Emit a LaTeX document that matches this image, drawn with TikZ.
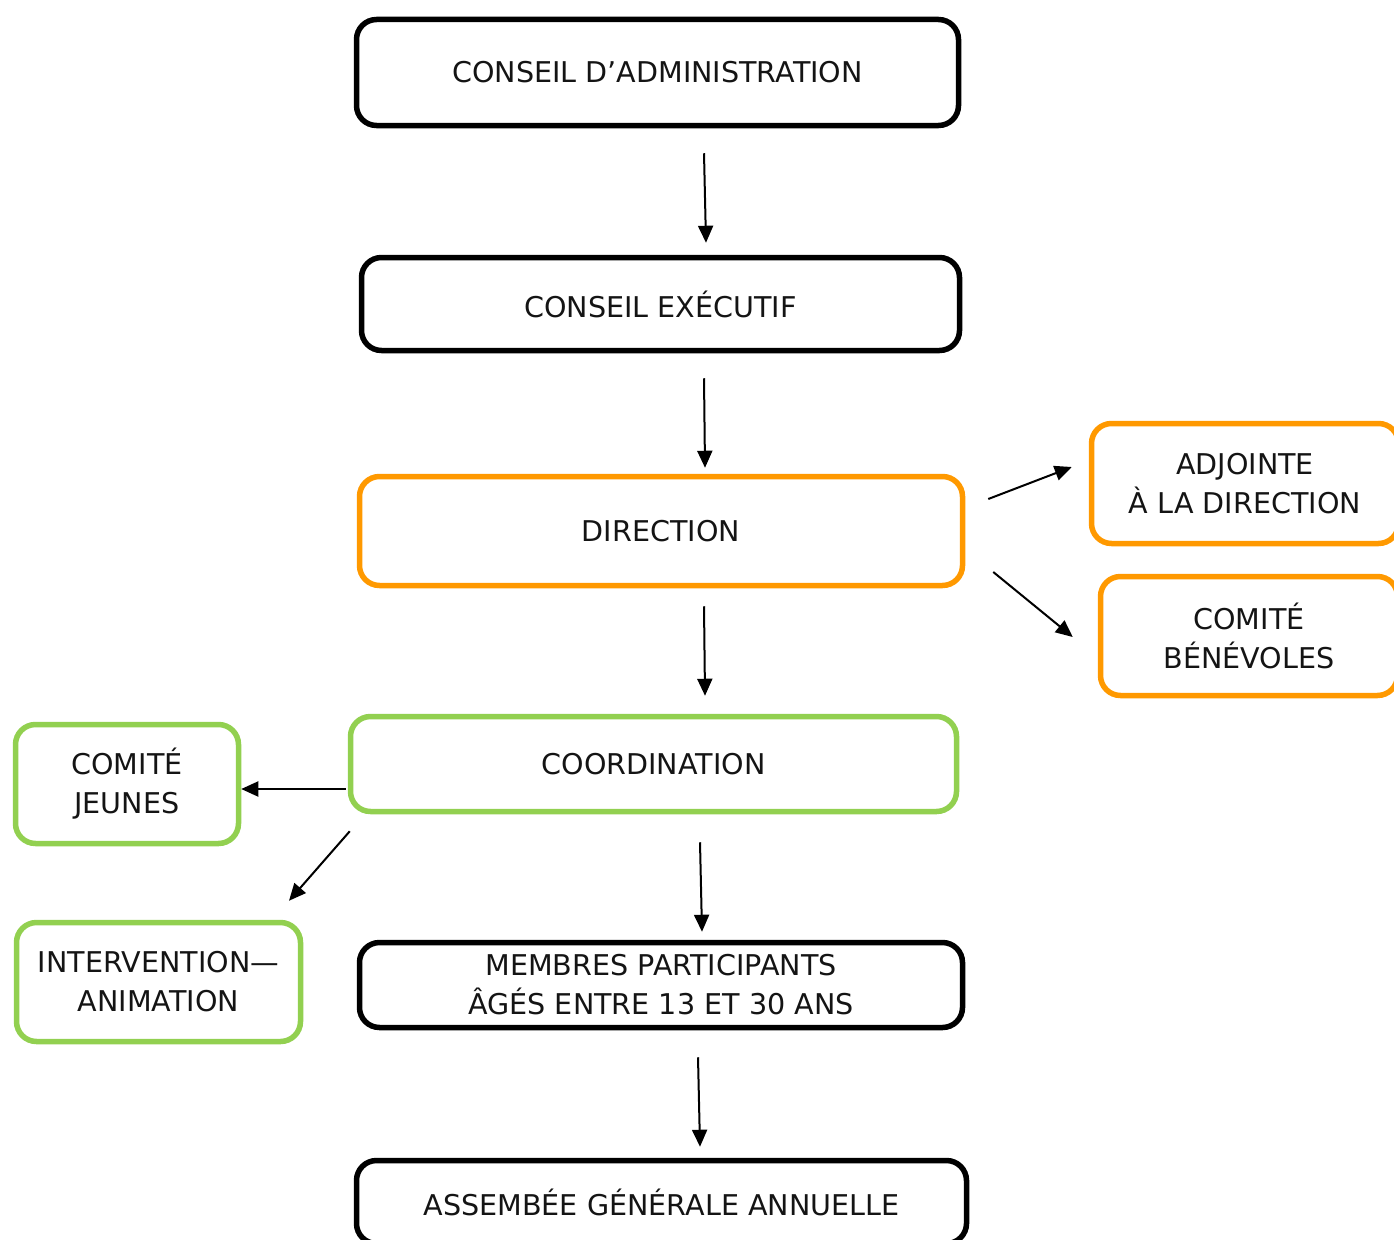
\documentclass[tikz,border=0pt]{standalone}
\usepackage{fontspec}
\setmainfont{DejaVu Sans}
\usetikzlibrary{arrows.meta,calc}
\definecolor{orgc}{HTML}{FF9900}
\definecolor{grnc}{HTML}{92D050}
\begin{document}
\begin{tikzpicture}[x=1pt,y=-1pt,
  box/.style={draw=#1, line width=5.5pt, rounded corners=20pt, inner sep=0pt, align=center,
    font=\fontsize{28.6}{39}\selectfont, text=black!92},
  arr/.style={line width=2pt, -{Triangle[length=17pt,width=15pt]}}]
\useasboundingbox (0,0) rectangle (1394,1239);
\clip (0,0) rectangle (1394,1239);
\node[box=black, minimum width=602pt, minimum height=106pt] (ca) at (657.5,72.5) {CONSEIL D’ADMINISTRATION};
\node[box=black, minimum width=598pt, minimum height=93pt] (ce) at (660.5,304) {CONSEIL EXÉCUTIF};
\node[box=orgc, minimum width=603pt, minimum height=109pt] (dir) at (661,531) {DIRECTION};
\node[box=orgc, minimum width=307pt, minimum height=120pt] (adj) at (1245,483.5) {ADJOINTE\\À LA DIRECTION};
\node[box=orgc, minimum width=297pt, minimum height=119pt] (ben) at (1249,636) {COMITÉ\\BÉNÉVOLES};
\node[box=grnc, minimum width=606pt, minimum height=95pt] (coord) at (653.5,764) {COORDINATION};
\node[box=grnc, minimum width=223pt, minimum height=119pt] (cj) at (127,784) {COMITÉ\\JEUNES};
\node[box=grnc, minimum width=284pt, minimum height=119pt] (int) at (158.5,982) {INTERVENTION—\\ANIMATION};
\node[box=black, minimum width=603pt, minimum height=85pt] (mem) at (661,985) {MEMBRES PARTICIPANTS\\ÂGÉS ENTRE 13 ET 30 ANS};
\node[box=black, minimum width=610pt, minimum height=83pt] (ass) at (661.5,1202) {ASSEMBÉE GÉNÉRALE ANNUELLE};
\draw[arr] ($(ca.south)+(46.5,25)$) -- ($(ce.north)+(45.5,-12)$);
\draw[arr] ($(ce.south)+(43.5,25)$) -- ($(dir.north)+(44,-6)$);
\draw[arr] ($(dir.south)+(43,18)$) -- ($(coord.north)+(51.5,-18)$);
\draw[arr] ($(dir.east)+(23,-32)$) -- ($(adj.west)+(-17,-16.5)$);
\draw[arr] ($(dir.east)+(28,41)$) -- ($(ben.west)+(-25,1)$);
\draw[arr] ($(coord.west)+(-2,25)$) -- ($(cj.east)+(0,5)$);
\draw[arr] ($(coord.south west)+(2,17)$) -- ($(int.north)+(130.5,-19)$);
\draw[arr] ($(coord.south)+(46.5,28)$) -- ($(mem.north)+(41,-8)$);
\draw[arr] ($(mem.south)+(37,27)$) -- ($(ass.north)+(38.5,-11)$);
\end{tikzpicture}
\end{document}
